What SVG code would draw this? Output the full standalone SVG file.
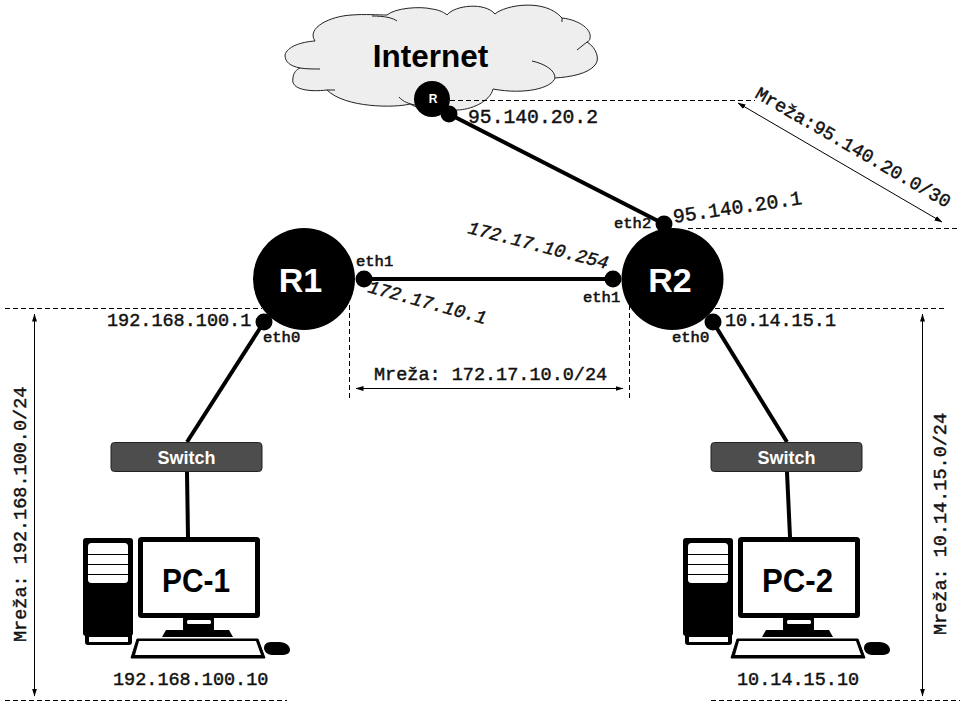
<svg xmlns="http://www.w3.org/2000/svg" width="960" height="720" viewBox="0 0 960 720">
<style>
.m{font-family:"Liberation Mono",monospace;font-weight:normal;fill:#111;stroke:#111;stroke-width:.45}
.s{font-family:"Liberation Sans",Arial,sans-serif;font-weight:bold}
.d{stroke:#000;stroke-width:1;stroke-dasharray:5 3;fill:none}
.a{stroke:#000;stroke-width:1;fill:none;marker-start:url(#ah);marker-end:url(#ah)}
.l{stroke:#000;fill:none;stroke-width:4}
.i{font-size:18.5px}
.b{font-size:19.7px}
.o{font-style:italic}
.e{font-size:15.5px;stroke-width:.6}
.hook{fill:none;stroke:#222;stroke-width:1}
</style>
<defs>
<marker id="ah" markerWidth="8" markerHeight="6" refX="7.5" refY="3" orient="auto-start-reverse" markerUnits="userSpaceOnUse"><path d="M0 .5L8 3L0 5.5Z" fill="#000"/></marker>
<g id="pc">
<rect x="83" y="538" width="50" height="98" rx="3" fill="#000"/>
<path d="M85 630H132V642a3 3 0 0 1-3 3H88a3 3 0 0 1-3-3Z" fill="#000"/>
<rect x="88" y="543" width="40" height="40" rx="3.5" fill="#fff"/>
<path d="M88 554.500H128M88 564.500H128M88 574.500H128" stroke="#000" stroke-width="1" fill="none"/>
<rect x="89" y="637" width="39" height="5" fill="#fff"/>
<rect x="138" y="537" width="122" height="81" rx="3.500" fill="#000"/>
<rect x="143" y="542" width="112" height="71" fill="#fff"/>
<path d="M183 618H214V630H229L233 637H162L166 630H183Z" fill="#000"/>
<rect x="187" y="620" width="24" height="4" rx="1.500" fill="#fff"/>
<path d="M137 639H258L265 658H131Z" fill="#000" stroke="#000" stroke-width="1" stroke-linejoin="round"/>
<path d="M139 641H256L261 655H135Z" fill="#fff"/>
<path d="M271 642H279C286 642 290 646 290 650C290 653 287 655 281 655H272C267 655 264 651 264 648C264 645 266 642 271 642Z" fill="#000"/>
</g>
</defs>
<rect width="960" height="720" fill="#fff"/>
<g id="cloud">
<path d="M315 41C306 28 330 16 352 15C365 14 378 15 387 15C395 8 420 6 432 9C440 10 445 13 447 15C455 5 485 2 495 14C505 5 545 -2 562 18C580 20 592 30 590 38C590 40 589 41 587 42C597 48 600 60 595 65C588 74 570 77 555 78C552 88 525 95 493 89C490 102 470 110 457 110C440 113 420 110 410 104C395 108 345 108 327 90C310 92 290 90 293 78C293 73 297 69 300 68C290 66 285 62 285 55C287 47 300 42 315 41Z" fill="#eee" stroke="#222" stroke-width="1"/>
<path class="hook" d="M300 68C306 69 314 69 320 69M372 16C385 16 393 18 397 21M562 18V22M587 42L577 50M532 61C545 64 555 70 555 78M327 90H335M399 97C403 102 410 104 415 105"/>
<text class="s" x="430.500" y="67" font-size="31.500" text-anchor="middle">Internet</text>
</g>
<g id="connectors">
<path class="l" d="M449 114L664 224"/>
<path class="l" d="M364 279H613"/>
<path class="l" d="M264 322L187 442"/>
<path class="l" d="M713 322L787 442"/>
<path class="l" d="M187 472L188 537"/>
<path class="l" d="M787 472L790 537"/>
<path class="d" d="M450 100.500H755"/>
<path class="d" d="M688 228.500H960"/>
<path class="d" d="M5 308.500H262"/>
<path class="d" d="M715 308.500H947"/>
<path class="d" d="M349.500 305V400"/>
<path class="d" d="M629.500 305V400"/>
<path class="d" d="M5 700.500H287"/>
<path class="d" d="M711 700.500H960"/>
<path class="a" d="M738 103L942 222"/>
<path class="a" d="M356 388.500H623"/>
<path class="a" d="M34.500 314V696"/>
<path class="a" d="M922.500 314V696"/>
</g>
<g id="R"><circle cx="432" cy="99" r="18" fill="#000"/><text class="s" x="433" y="103" font-size="12" fill="#fff" text-anchor="middle">R</text><circle cx="449" cy="114" r="8.500" fill="#000"/></g>
<g id="R1"><circle cx="304" cy="279" r="51" fill="#000"/><text class="s" x="300.500" y="292" font-size="34" fill="#fff" text-anchor="middle">R1</text><circle cx="364" cy="279" r="8.500" fill="#000"/><circle cx="264" cy="322" r="8.500" fill="#000"/></g>
<g id="R2"><circle cx="672.500" cy="279" r="51" fill="#000"/><text class="s" x="670" y="292" font-size="34" fill="#fff" text-anchor="middle">R2</text><circle cx="613" cy="279" r="8.500" fill="#000"/><circle cx="664" cy="224" r="8.500" fill="#000"/><circle cx="713" cy="322" r="8.500" fill="#000"/></g>
<g id="SW1"><rect x="111" y="442.500" width="151" height="29" rx="3.500" fill="#4d4d4d" stroke="#222"/><text class="s" x="186.500" y="464" font-size="18" fill="#fff" text-anchor="middle">Switch</text></g>
<g id="SW2"><rect x="711" y="442.500" width="151" height="29" rx="3.500" fill="#4d4d4d" stroke="#222"/><text class="s" x="786.500" y="464" font-size="18" fill="#fff" text-anchor="middle">Switch</text></g>
<g id="PC1"><use href="#pc"/><text class="s" x="162" y="592" font-size="33" textLength="68" lengthAdjust="spacingAndGlyphs">PC-1</text></g>
<g id="PC2"><use href="#pc" x="600"/><text class="s" x="762" y="592" font-size="33" textLength="71" lengthAdjust="spacingAndGlyphs">PC-2</text></g>
<g id="labels">
<text class="m b" x="468" y="122.500">95.140.20.2</text>
<text class="m b" transform="translate(674 223) rotate(-8.4)">95.140.20.1</text>
<text class="m i o" transform="translate(367 292) rotate(15.3)">172.17.10.1</text>
<text class="m i o" transform="translate(467 233) rotate(14.5)">172.17.10.254</text>
<text class="m i" x="107" y="325.500">192.168.100.1</text>
<text class="m i" x="725" y="325.500">10.14.15.1</text>
<text class="m i" x="113" y="685">192.168.100.10</text>
<text class="m i" x="737" y="685">10.14.15.10</text>
<text class="m e" x="356" y="266">eth1</text>
<text class="m e" x="583" y="302">eth1</text>
<text class="m e" x="614" y="228">eth2</text>
<text class="m e" x="263" y="342">eth0</text>
<text class="m e" x="672" y="342">eth0</text>
<text class="m i" x="374" y="380">Mreža: 172.17.10.0/24</text>
<text class="m i" transform="translate(754 97) rotate(30)">Mreža:95.140.20.0/30</text>
<text class="m i" transform="translate(26 642) rotate(-90)">Mreža: 192.168.100.0/24</text>
<text class="m i" transform="translate(946 635) rotate(-90)">Mreža: 10.14.15.0/24</text>
</g>
</svg>
